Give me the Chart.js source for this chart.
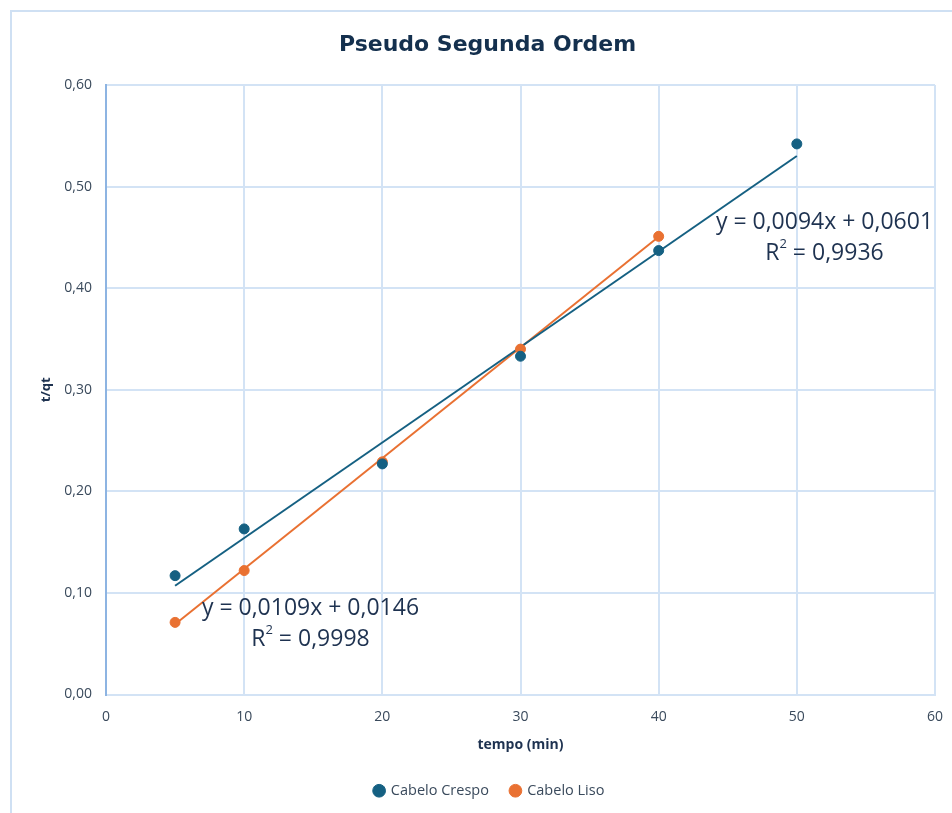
<!DOCTYPE html>
<html>
<head>
<meta charset="utf-8">
<script src="https://cdn.jsdelivr.net/npm/chart.js@4.4.1/dist/chart.umd.min.js"></script>
<style>
  html, body { margin: 0; padding: 0; background: #ffffff; }
  #wrap { position: relative; width: 952px; height: 813px; overflow: hidden; }
  #frame { position: absolute; left: 10px; top: 10px; width: 1000px; height: 900px;
           border: 2px solid #cfe0f3; box-sizing: border-box; }
  canvas { position: absolute; left: 0; top: 0; }
</style>
</head>
<body>
<div id="wrap">
  <div id="frame"></div>
  <canvas id="chart" width="952" height="813"></canvas>
</div>
<script>
// Tempo de contato (min) e t/qt para cada amostra
const tempoCrespo = [5, 10, 20, 30, 40, 50];
const tqtCrespo   = [0.117, 0.163, 0.227, 0.333, 0.437, 0.542];
const tempoLiso   = [5, 10, 20, 30, 40];
const tqtLiso     = [0.071, 0.122, 0.229, 0.340, 0.451];

// Regressões lineares (inclinação, intercepto, R²)
const seriesNames = ['Cabelo Crespo', 'Cabelo Liso'];
const slopes      = [0.0094, 0.0109];
const intercepts  = [0.0601, 0.0146];
const r2Values    = [0.9936, 0.9998];

const xTicks = [0, 10, 20, 30, 40, 50, 60];
const yTicks = [0, 0.1, 0.2, 0.3, 0.4, 0.5, 0.6];

const AZUL = '#156082';
const LARANJA = '#E97132';
const TEXTO = '#1e3250';
const FONTE = '"Open Sans", sans-serif';

const fmt = (v, d) => v.toFixed(d).replace('.', ',');

function pts(xs, ys) { return xs.map((x, i) => ({ x: x, y: ys[i] })); }
function trend(xs, k) {
  const a = xs[0], b = xs[xs.length - 1];
  return [{ x: a, y: slopes[k] * a + intercepts[k] }, { x: b, y: slopes[k] * b + intercepts[k] }];
}

// Posição (em unidades dos eixos) do centro de cada rótulo de equação
const eqAnchors = [{ x: 52.0, y: 0.465 }, { x: 14.8, y: 0.085 }];

const equationLabels = {
  id: 'equationLabels',
  afterDatasetsDraw(chart) {
    const { ctx, scales: { x, y } } = chart;
    const big = '23px ' + FONTE, small = '13px ' + FONTE;
    ctx.save();
    ctx.fillStyle = TEXTO;
    ctx.textBaseline = 'middle';
    eqAnchors.forEach((p, k) => {
      const cx = x.getPixelForValue(p.x);
      const cy = y.getPixelForValue(p.y);
      ctx.font = big;
      ctx.textAlign = 'center';
      ctx.fillText('y = ' + fmt(slopes[k], 4) + 'x + ' + fmt(intercepts[k], 4), cx, cy);
      // R² com expoente
      const left = 'R', right = ' = ' + fmt(r2Values[k], 4);
      const wl = ctx.measureText(left).width, wr = ctx.measureText(right).width;
      ctx.font = small;
      const ws = ctx.measureText('2').width;
      const sx = cx - (wl + ws + wr) / 2;
      const ry = cy + 31;
      ctx.textAlign = 'left';
      ctx.font = big;
      ctx.fillText(left, sx, ry);
      ctx.font = small;
      ctx.fillText('2', sx + wl, ry - 9);
      ctx.font = big;
      ctx.fillText(right, sx + wl + ws, ry);
    });
    ctx.restore();
  }
};

// Título e legenda centrados na largura total do quadro (que se estende além do canvas)
const centerBlocks = {
  id: 'centerBlocks',
  afterLayout(chart) {
    if (chart.titleBlock) { chart.titleBlock.left += 10; chart.titleBlock.right += 10; }
    if (chart.legend) { chart.legend.left += 12; chart.legend.right += 12; }
  }
};

const noScalePadding = s => { s.paddingLeft = 0; s.paddingRight = 0; s.paddingTop = 0; s.paddingBottom = 0; };

new Chart(document.getElementById('chart'), {
  type: 'scatter',
  data: {
    datasets: [
      { label: seriesNames[0], data: pts(tempoCrespo, tqtCrespo), backgroundColor: AZUL, borderColor: AZUL,
        pointRadius: 5, pointHoverRadius: 5, showLine: false, order: 1 },
      { label: seriesNames[1], data: pts(tempoLiso, tqtLiso), backgroundColor: LARANJA, borderColor: LARANJA,
        pointRadius: 5, pointHoverRadius: 5, showLine: false, order: 1 },
      { label: 'trend0', data: trend(tempoCrespo, 0), showLine: true, borderColor: AZUL, borderWidth: 2,
        pointRadius: 0, fill: false, order: 2 },
      { label: 'trend1', data: trend(tempoLiso, 1), showLine: true, borderColor: LARANJA, borderWidth: 2,
        pointRadius: 0, fill: false, order: 2 }
    ]
  },
  options: {
    responsive: false,
    animation: false,
    events: [],
    layout: { padding: { left: 20, right: 17, top: 0, bottom: 5 } },
    plugins: {
      title: {
        display: true,
        text: 'Pseudo Segunda Ordem',
        color: '#14304e',
        font: { family: '"DejaVu Sans", sans-serif', size: 22, weight: 'bold' },
        padding: { top: 32.5, bottom: 26.1 }
      },
      legend: {
        position: 'bottom',
        labels: {
          filter: item => item.datasetIndex < 2,
          usePointStyle: true,
          pointStyle: 'circle',
          boxWidth: 9, boxHeight: 9,
          color: '#3a4a5c',
          font: { family: FONTE, size: 14.5 },
          padding: 22
        }
      },
      tooltip: { enabled: false }
    },
    scales: {
      x: {
        type: 'linear', min: 0, max: 60,
        afterBuildTicks: s => { s.ticks = xTicks.map(v => ({ value: v })); },
        afterFit: s => { s.height = 67; noScalePadding(s); },
        grid: { color: '#d3e3f5', lineWidth: 2, drawTicks: false },
        border: { color: '#d3e3f5', width: 2 },
        ticks: { color: '#3a4a5c', padding: 14, font: { family: FONTE, size: 14 },
                 callback: v => String(v) },
        title: { display: true, text: 'tempo (min)', color: '#1e3250',
                 font: { family: FONTE, size: 14, weight: 'bold' }, padding: { top: 4, bottom: 8 } }
      },
      y: {
        type: 'linear', min: 0, max: 0.6,
        afterBuildTicks: s => { s.ticks = yTicks.map(v => ({ value: v })); },
        afterFit: s => { s.width = 86; noScalePadding(s); },
        grid: { color: '#d3e3f5', lineWidth: 2, drawTicks: false },
        border: { color: '#8db4e2', width: 2 },
        ticks: { color: '#3a4a5c', padding: 14, font: { family: FONTE, size: 14 },
                 callback: v => fmt(v, 2) },
        title: { display: true, text: 't/qt', color: '#1e3250',
                 font: { family: FONTE, size: 13, weight: 'bold' }, padding: { top: 18, bottom: 4 } }
      }
    }
  },
  plugins: [equationLabels, centerBlocks]
});
</script>
</body>
</html>
